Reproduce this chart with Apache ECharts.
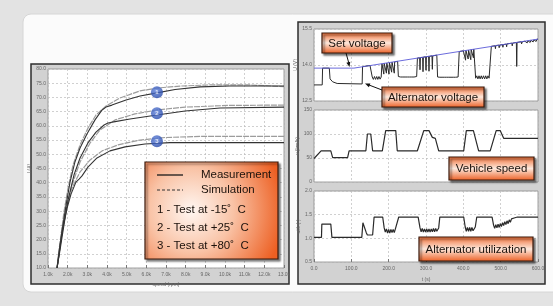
<!DOCTYPE html>
<html>
<head>
<meta charset="utf-8">
<script src="https://cdn.jsdelivr.net/npm/echarts@6/dist/echarts.min.js"></script>
<style>
html, body { margin: 0; padding: 0; background: #e3e3e3; }
#main { width: 553px; height: 306px; }
</style>
</head>
<body>
<div id="main"></div>
<script>
// ---- left chart: current vs speed ----
var speedTicks = [1, 2, 3, 4, 5, 6, 7, 8, 9, 10, 11, 12, 13];
var currentTicks = [10, 15, 20, 25, 30, 35, 40, 45, 50, 55, 60, 65, 70, 75, 80];

var meas1 = [[1.46,10],[1.56,14.6],[1.71,22.7],[1.92,32.2],[2.12,40.2],[2.37,47.3],[2.63,52.2],[2.98,57.1],[3.39,62.1],[3.75,65.6],[3.95,66.6],[4.25,67.3],[4.97,69.1],[5.68,70.5],[6.54,71.6],[7.46,72.8],[8.73,73.7],[10.25,74.0],[13,74.0]];
var sim1 = [[1.46,10],[1.61,18.1],[1.81,29.7],[2.02,38.1],[2.27,46.2],[2.63,53.3],[3.03,59.2],[3.44,63.8],[3.95,67.0],[4.66,69.8],[5.68,72.3],[6.54,73.3],[7.71,74.0],[9.24,74.4],[11.27,74.4],[13,73.8]];
var meas2 = [[1.46,10],[1.61,16.3],[1.81,25.1],[2.02,33.9],[2.32,42.7],[2.63,48.7],[3.03,54.0],[3.44,57.8],[3.85,60.3],[4.05,61.0],[4.41,61.5],[5.17,62.4],[6.54,63.8],[7.97,65.2],[9.75,66.3],[13,66.6]];
var sim2 = [[1.46,10],[1.66,19.8],[1.92,30.4],[2.22,39.2],[2.63,47.3],[3.14,54.0],[3.64,58.5],[4.41,62.1],[5.42,64.2],[6.54,65.6],[7.97,66.6],[10.25,67.2],[13,67.3]];
var meas3 = [[1.46,10],[1.51,12.8],[1.61,18.1],[1.76,24.4],[1.97,31.1],[2.17,36.0],[2.42,40.2],[2.58,41.3],[2.73,42.4],[3.03,45.5],[3.49,48.7],[4.15,51.2],[4.92,52.6],[5.93,53.6],[7.20,54.1],[13,54.1]];
var sim3 = [[1.46,10],[1.56,16.3],[1.71,24.1],[1.92,31.5],[2.22,38.1],[2.63,43.8],[3.14,48.0],[3.75,51.2],[4.56,53.3],[5.68,55.0],[6.95,55.9],[8.73,56.3],[13,56.3]];
var bubbles = [[6.54,71.8],[6.54,64.4],[6.54,54.6]];

var legendLabels = ['Measurement', 'Simulation'];
var testLabels = ['1 - Test at -15\u02DA  C', '2 - Test at +25\u02DA  C', '3 - Test at +80\u02DA  C'];

// ---- right chart: voltage / speed / utilization over time ----
var timeTicks = [0, 100, 200, 300, 400, 500, 600];
var voltTicks = [12.5, 14.0, 15.5];
var velTicks = [0, 50, 100, 150];
var utilTicks = [0.5, 1.0, 1.5, 2.0];

var setVoltage = [[0,13.87],[107,13.87],[600,15.08]];
var altVoltage = [[0,13.17],[22,13.17],[23,13.87],[41,13.87],[43,13.42],[50,13.30],[62,13.23],[129,13.21],[130,13.93],
  [150,13.98],[154,13.98],[156,13.50],[159,13.40],[162,13.52],[165,13.40],[168,13.52],[171,13.40],[174,13.52],[177,13.41],[180,13.50],[182,14.05],
  [186,14.06],[187,13.62],[188,14.07],[193,14.08],[194,13.66],[195,14.08],[200,14.10],[201,13.62],[202,14.10],[207,14.11],[208,13.70],[209,14.12],[214,14.13],[215,13.66],[216,14.13],[224,14.15],
  [226,13.52],[229,13.58],[232,13.50],[235,13.58],[238,13.50],[241,13.58],[244,13.50],[247,13.58],[250,13.50],[253,13.58],[256,13.50],[259,13.58],[262,13.50],[265,13.58],[268,13.50],[271,13.57],[275,13.52],[277,14.29],
  [283,14.30],[284,13.80],[285,14.31],[291,14.32],[292,13.72],[293,14.33],[299,14.34],[300,13.78],[301,14.34],[307,14.36],[308,13.74],[309,14.36],[316,14.38],[317,13.82],[318,14.38],[329,14.41],
  [331,13.50],[334,13.57],[337,13.49],[340,13.57],[343,13.49],[346,13.57],[349,13.49],[352,13.57],[355,13.49],[358,13.57],[361,13.49],[364,13.57],[367,13.49],[370,13.57],[373,13.49],[376,13.57],[379,13.49],[382,13.57],[386,13.50],[389,14.56],
  [400,14.59],[405,14.60],[406,14.20],[407,14.60],[412,14.62],[413,14.25],[414,14.62],[419,14.64],[420,14.22],[421,14.64],[426,14.66],[427,14.30],[428,14.66],[431,14.67],
  [433,13.45],[436,13.55],[439,13.42],[442,13.55],[445,13.42],[448,13.55],[451,13.42],[454,13.55],[457,13.42],[460,13.55],[463,13.42],[466,13.55],[469,13.45],[472,13.50],[475,14.78],
  [485,14.80],[486,14.68],[487,14.81],[495,14.83],[496,14.72],[497,14.83],[505,14.85],[506,14.74],[507,14.85],[515,14.87],[516,14.76],[517,14.88],[530,14.91],[531,14.80],[532,14.91],[542,14.94],[543,13.94],[544,14.94],
  [555,14.97],[556,14.88],[558,14.97],[562,14.99],[563,14.90],[565,14.99],[570,15.00],[571,14.92],[573,15.01],[578,15.02],[579,14.94],[581,15.03],[586,15.04],[587,14.96],[589,15.05],[594,15.06],[595,14.98],[597,15.07],[600,15.08]];
var vehicleSpeed = [[0,49],[5,53],[19,65],[45,65],[50,50.6],[90,50.6],[94,65],[139,65],[143,100],[152,100],[157,65],[183,65],[192,107],[219,107],[223,65],[277,65],[294,107],[308,107],[317,93],[325,91],[334,65],[401,65],[408,107],[427,107],[441,65],[472,65],[488,107],[499,107],[508,91],[600,91]];
var altUtil = [[0,1.02],[20,1.02],[21,1.30],[45,1.30],[48,1.02],[128,1.02],[131,1.33],[136,1.33],[140,1.12],[143,1.07],[157,1.07],[161,1.45],[184,1.45],
  [188,1.22],[191,1.13],[194,1.20],[197,1.11],[200,1.19],[203,1.11],[206,1.19],[209,1.12],[212,1.19],[215,1.12],[218,1.20],[223,1.20],[227,1.45],[279,1.45],
  [284,1.22],[287,1.14],[290,1.21],[293,1.13],[296,1.20],[299,1.13],[302,1.20],[305,1.13],[308,1.20],[311,1.13],[314,1.20],[317,1.14],[320,1.21],[323,1.14],[326,1.21],[329,1.15],[334,1.22],[337,1.45],[401,1.45],
  [405,1.24],[408,1.15],[411,1.23],[414,1.15],[417,1.23],[420,1.15],[423,1.23],[426,1.16],[432,1.24],[436,1.45],[477,1.45],
  [481,1.28],[484,1.21],[487,1.29],[490,1.22],[493,1.30],[496,1.23],[499,1.31],[502,1.25],[505,1.33],[508,1.27],[511,1.35],[514,1.29],[517,1.37],[520,1.31],[523,1.39],[526,1.34],[529,1.41],[532,1.37],[536,1.43],[540,1.41],[545,1.45],[552,1.45],[600,1.45]];

var annotations = ['Set voltage', 'Alternator voltage', 'Vehicle speed', 'Alternator utilization'];

var chart = echarts.init(document.getElementById('main'));

var tiny = { fontSize: 5, color: '#666', fontFamily: 'Liberation Sans' };
var grid_line = { show: true, lineStyle: { color: '#bdbdbd', type: [2, 2], width: 0.7 } };

function xAx(gi, ticks, showLabel, dec, suffix, name) {
    return {
        type: 'value', gridIndex: gi,
        min: ticks[0], max: ticks[ticks.length - 1], interval: ticks[1] - ticks[0],
        axisLine: { show: false },
        axisTick: { show: showLabel, inside: true, length: 3, lineStyle: { color: '#777' } },
        axisLabel: Object.assign({ show: showLabel, margin: 4, formatter: function (v) { return v.toFixed(dec) + suffix; } }, tiny),
        splitLine: grid_line,
        name: name, nameLocation: 'middle', nameGap: 10, nameTextStyle: tiny
    };
}
function yAx(gi, ticks, dec, name, gap) {
    return {
        type: 'value', gridIndex: gi,
        min: ticks[0], max: ticks[ticks.length - 1], interval: ticks[1] - ticks[0],
        axisLine: { show: false }, axisTick: { show: false },
        axisLabel: Object.assign({ margin: 2, formatter: function (v) { return v.toFixed(dec); } }, tiny),
        splitLine: grid_line,
        name: name, nameLocation: 'middle', nameRotate: 90, nameGap: gap, nameTextStyle: tiny
    };
}

function line(data, color, width, xi, dash) {
    return {
        type: 'line', data: data, xAxisIndex: xi, yAxisIndex: xi, showSymbol: false, silent: true,
        lineStyle: { color: color, width: width, type: dash || 'solid' }, z: 3
    };
}

function bandFill() {
    return new echarts.graphic.LinearGradient(0, 0, 0, 1, [
        { offset: 0, color: '#ef6a30' }, { offset: 0.5, color: '#fde8dc' }, { offset: 1, color: '#ec5e22' }
    ]);
}
function labelBox(x, y, w, h, text) {
    return [
        { type: 'rect', z: 60, shape: { x: x, y: y, width: w, height: h },
          style: { fill: bandFill(), stroke: '#3a1a0c', lineWidth: 1.2,
                   shadowColor: 'rgba(0,0,0,0.55)', shadowOffsetX: 2, shadowOffsetY: 2, shadowBlur: 2 } },
        { type: 'text', z: 61, style: { text: text, x: x + w / 2, y: y + h / 2 + 0.5,
          align: 'center', verticalAlign: 'middle', textAlign: 'center', textVerticalAlign: 'middle',
          font: '11.5px "Liberation Sans"', fill: '#1c120c' } }
    ];
}

var elements = [
    // background and panel
    { type: 'rect', z: -30, shape: { x: 0, y: 0, width: 553, height: 306 }, style: { fill: '#e3e3e3' } },
    { type: 'rect', z: -29, shape: { x: 23, y: 14, width: 545, height: 278, r: 8 }, style: { fill: '#fbfbfb', stroke: '#d6d6d6', lineWidth: 1 } },
    // left frame
    { type: 'rect', z: -28, shape: { x: 31, y: 64, width: 258, height: 220 }, style: { fill: '#d2d2d2', stroke: '#2e2e2e', lineWidth: 1.5 } },
    { type: 'rect', z: -27, shape: { x: 48, y: 69, width: 236, height: 199 }, style: { fill: '#ffffff', stroke: '#8a8a8a', lineWidth: 0.8 } },
    // right frame
    { type: 'rect', z: -28, shape: { x: 298, y: 22, width: 247, height: 262 }, style: { fill: '#d2d2d2', stroke: '#2e2e2e', lineWidth: 1.5 } },
    { type: 'rect', z: -27, shape: { x: 314, y: 29, width: 224, height: 72 }, style: { fill: '#ffffff', stroke: '#8a8a8a', lineWidth: 0.8 } },
    { type: 'rect', z: -27, shape: { x: 314, y: 110, width: 224, height: 72 }, style: { fill: '#ffffff', stroke: '#8a8a8a', lineWidth: 0.8 } },
    { type: 'rect', z: -27, shape: { x: 314, y: 191, width: 224, height: 71 }, style: { fill: '#ffffff', stroke: '#8a8a8a', lineWidth: 0.8 } },
    // legend box of left chart
    { type: 'rect', z: 60, shape: { x: 145, y: 162, width: 133, height: 97 },
      style: { fill: new echarts.graphic.RadialGradient(0.35, 0.5, 0.95, [
                 { offset: 0, color: '#fff7f2' }, { offset: 0.45, color: '#f9c3a6' }, { offset: 1, color: '#ed5f22' }]),
               stroke: '#3a1a0c', lineWidth: 1.2, shadowColor: 'rgba(0,0,0,0.5)', shadowOffsetX: 2, shadowOffsetY: 2, shadowBlur: 2 } },
    { type: 'line', z: 61, shape: { x1: 157, y1: 175, x2: 183, y2: 175 }, style: { stroke: '#1a1a1a', lineWidth: 1.3 } },
    { type: 'line', z: 61, shape: { x1: 157, y1: 190, x2: 183, y2: 190 }, style: { stroke: '#333', lineWidth: 1, lineDash: [3, 2] } },
    // arrows of right chart
    { type: 'line', z: 61, shape: { x1: 346, y1: 53, x2: 348.8, y2: 63 }, style: { stroke: '#111', lineWidth: 1 } },
    { type: 'polygon', z: 61, shape: { points: [[349.5, 67], [350.3, 61.7], [346.4, 62.7]] }, style: { fill: '#111' } },
    { type: 'line', z: 61, shape: { x1: 382, y1: 90, x2: 369, y2: 85 }, style: { stroke: '#111', lineWidth: 1 } },
    { type: 'polygon', z: 61, shape: { points: [[365, 83.5], [370.4, 83.4], [368.9, 87.3]] }, style: { fill: '#111' } }
];
legendLabels.forEach(function (t, i) {
    elements.push({ type: 'text', z: 61, style: { text: t, x: 201, y: 175 + i * 15, verticalAlign: 'middle', textVerticalAlign: 'middle',
        font: '11.5px "Liberation Sans"', fill: '#1c120c' } });
});
testLabels.forEach(function (t, i) {
    elements.push({ type: 'text', z: 61, style: { text: t, x: 157, y: 210 + i * 18, verticalAlign: 'middle', textVerticalAlign: 'middle',
        font: '11.5px "Liberation Sans"', fill: '#1c120c' } });
});
elements = elements
    .concat(labelBox(322, 33, 70, 20, annotations[0]))
    .concat(labelBox(382, 87, 102, 20, annotations[1]))
    .concat(labelBox(449, 157, 85, 23, annotations[2]))
    .concat(labelBox(419, 237, 114, 24, annotations[3]));

chart.setOption({
    animation: false,
    grid: [
        { left: 48, top: 69, width: 236, height: 199 },
        { left: 314, top: 29, width: 224, height: 72 },
        { left: 314, top: 110, width: 224, height: 72 },
        { left: 314, top: 191, width: 224, height: 71 }
    ],
    xAxis: [
        xAx(0, speedTicks, true, 1, 'k', 'speed (rpm)'),
        xAx(1, timeTicks, false, 1, '', ''),
        xAx(2, timeTicks, false, 1, '', ''),
        Object.assign(xAx(3, timeTicks, true, 1, '', 't (s)'), { nameGap: 15 })
    ],
    yAxis: [
        yAx(0, currentTicks, 1, 'I (A)', 12),
        yAx(1, voltTicks, 1, 'U (V)', 11),
        yAx(2, velTicks, 0, 'v (km/h)', 11),
        yAx(3, utilTicks, 1, 'util. (-)', 11)
    ],
    series: [
        line(sim1, '#9c9c9c', 1.2, 0, [6, 1]),
        line(sim2, '#9c9c9c', 1.2, 0, [6, 1]),
        line(sim3, '#9c9c9c', 1.2, 0, [6, 1]),
        line(meas1, '#333333', 1.1, 0),
        line(meas2, '#333333', 1.1, 0),
        line(meas3, '#333333', 1.1, 0),
        {
            type: 'scatter', data: bubbles, xAxisIndex: 0, yAxisIndex: 0, symbolSize: 12, z: 5, silent: true,
            itemStyle: { color: new echarts.graphic.RadialGradient(0.4, 0.35, 0.7, [
                { offset: 0, color: '#5d80dc' }, { offset: 1, color: '#2446a6' }]) },
            label: { show: true, position: 'inside', color: '#fff', fontSize: 6, fontWeight: 'bold',
                     formatter: function (p) { return String(p.dataIndex + 1); } }
        },
        line(altVoltage, '#2a2a2a', 1, 1),
        line(setVoltage, '#5a5ad8', 0.9, 1),
        line(vehicleSpeed, '#2a2a2a', 1.2, 2),
        line(altUtil, '#2a2a2a', 1.2, 3)
    ],
    graphic: { elements: elements }
});
</script>
</body>
</html>
